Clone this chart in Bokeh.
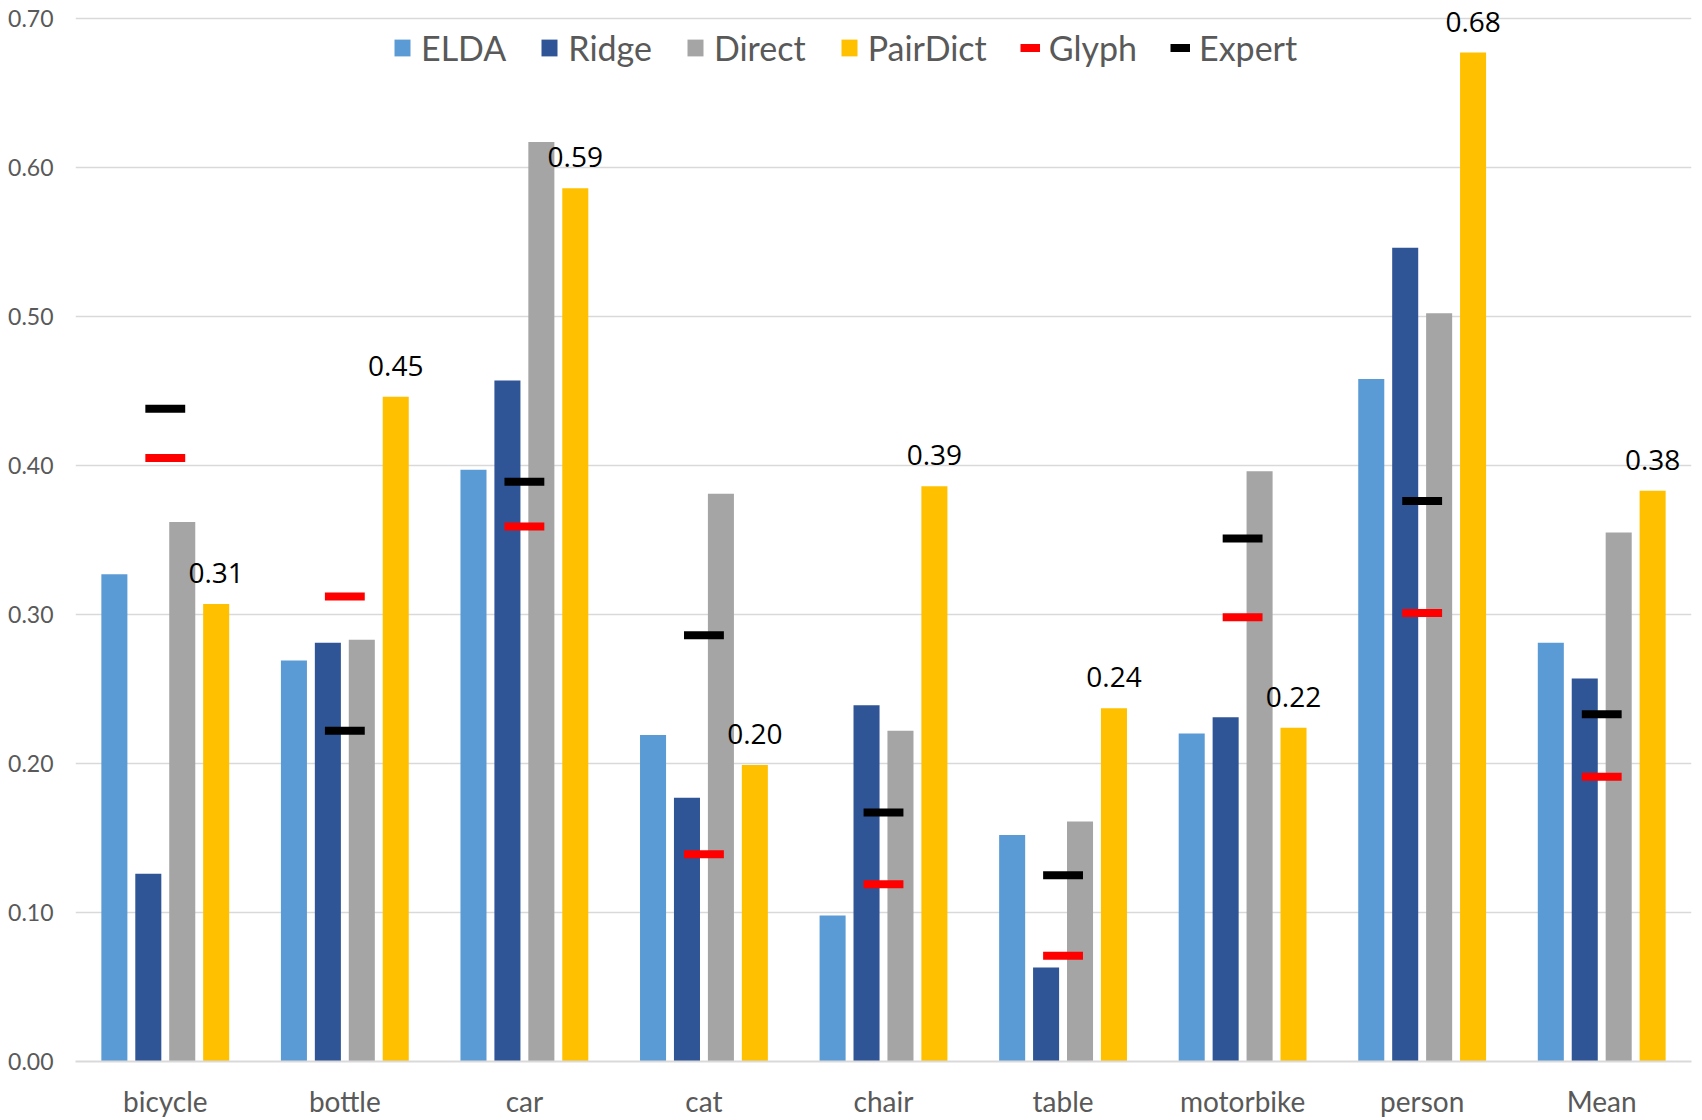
from bokeh.plotting import figure
from bokeh.models import (FactorRange, ColumnDataSource, Legend, LegendItem, Range1d,
                          FixedTicker, NumeralTickFormatter)
from bokeh.transform import dodge
from bokeh.embed import file_html
from bokeh.resources import INLINE
from bokeh.core.properties import value

categories = ["bicycle", "bottle", "car", "cat", "chair", "table", "motorbike", "person", "Mean"]
elda     = [0.327, 0.269, 0.397, 0.219, 0.098, 0.152, 0.220, 0.458, 0.281]
ridge    = [0.126, 0.281, 0.457, 0.177, 0.239, 0.063, 0.231, 0.546, 0.257]
direct   = [0.362, 0.283, 0.617, 0.381, 0.222, 0.161, 0.396, 0.502, 0.355]
pairdict = [0.307, 0.446, 0.586, 0.199, 0.386, 0.237, 0.224, 0.677, 0.383]
glyph    = [0.405, 0.312, 0.359, 0.139, 0.119, 0.071, 0.298, 0.301, 0.191]
expert   = [0.438, 0.222, 0.389, 0.286, 0.167, 0.125, 0.351, 0.376, 0.233]
y_ticks  = [0.0, 0.1, 0.2, 0.3, 0.4, 0.5, 0.6, 0.7]

src = ColumnDataSource(dict(
    cat=categories, elda=elda, ridge=ridge, direct=direct, pairdict=pairdict,
    glyph=glyph, expert=expert, label=[f"{v:.2f}" for v in pairdict]))

p = figure(width=1702, height=1120,
           x_range=FactorRange(*categories, range_padding=0),
           y_range=Range1d(0, 0.7119),
           output_backend="svg", toolbar_location=None,
           min_border_left=75, min_border_right=11, min_border_top=0, min_border_bottom=59)
p.outline_line_color = None
p.background_fill_color = "white"

FONT = "Lato"
GREY = "#595959"

bw = 0.145
step = 0.189
colors = ["#5B9BD5", "#2F5597", "#A5A5A5", "#FFC000"]
fields = ["elda", "ridge", "direct", "pairdict"]
offs = [-1.5 * step, -0.5 * step, 0.5 * step, 1.5 * step]
bars = []
for f, c, o in zip(fields, colors, offs):
    r = p.vbar(x=dodge("cat", o, range=p.x_range), top=f, width=bw, source=src,
               fill_color=c, line_color=None)
    bars.append(r)

half = 0.111
rg = p.segment(x0=dodge("cat", -half, range=p.x_range), x1=dodge("cat", half, range=p.x_range),
               y0="glyph", y1="glyph", source=src, line_color="#FF0000", line_width=8, line_cap="butt")
re = p.segment(x0=dodge("cat", -half, range=p.x_range), x1=dodge("cat", half, range=p.x_range),
               y0="expert", y1="expert", source=src, line_color="black", line_width=8, line_cap="butt")

p.text(x=dodge("cat", offs[3], range=p.x_range), y="pairdict", text="label", source=src,
       text_align="center", text_baseline="alphabetic", y_offset=-31,
       text_font=value("Open Sans"), text_font_size="28px", text_color="black")

# axes
p.yaxis.ticker = FixedTicker(ticks=y_ticks)
p.yaxis.formatter = NumeralTickFormatter(format="0.00")
p.yaxis.axis_line_color = None
p.yaxis.major_tick_line_color = None
p.yaxis.minor_tick_line_color = None
p.yaxis.major_label_text_font = FONT
p.yaxis.major_label_text_font_size = "23px"
p.yaxis.major_label_text_color = GREY
p.yaxis.major_label_standoff = 16

p.xaxis.axis_line_color = "#D9D9D9"
p.xaxis.axis_line_width = 2
p.xaxis.major_tick_line_color = None
p.xaxis.minor_tick_line_color = None
p.xaxis.major_label_text_font = FONT
p.xaxis.major_label_text_font_size = "28px"
p.xaxis.major_label_text_color = GREY
p.xaxis.major_label_standoff = 16

p.xgrid.grid_line_color = None
p.ygrid.ticker = FixedTicker(ticks=y_ticks)
p.ygrid.grid_line_color = "#D9D9D9"
p.ygrid.grid_line_width = 1.5

legend = Legend(items=[
    LegendItem(label="ELDA", renderers=[bars[0]]),
    LegendItem(label="Ridge", renderers=[bars[1]]),
    LegendItem(label="Direct", renderers=[bars[2]]),
    LegendItem(label="PairDict", renderers=[bars[3]]),
    LegendItem(label="Glyph", renderers=[rg]),
    LegendItem(label="Expert", renderers=[re]),
], orientation="horizontal", location=(317, 993),
    border_line_color=None, background_fill_alpha=0,
    label_text_font=FONT, label_text_font_size="34px", label_text_color=GREY,
    glyph_width=20, glyph_height=21, label_standoff=9, spacing=33, padding=0, margin=0)
p.add_layout(legend)

open("out.html", "w").write(file_html(p, INLINE))
